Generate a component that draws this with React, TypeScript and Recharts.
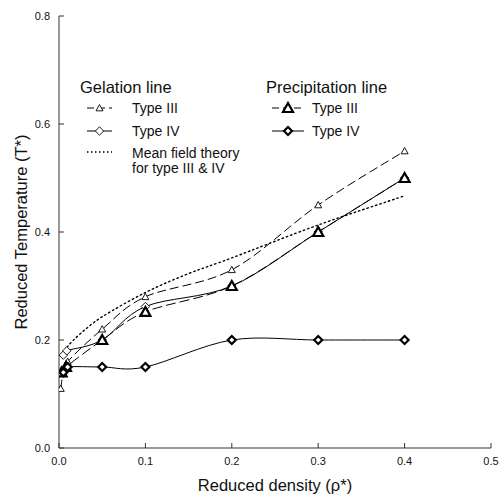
import React from 'react';
import { LineChart, Line, XAxis, YAxis, Legend } from 'recharts';

type Pt = { x: number; y: number };

const xTicks = [0, 0.1, 0.2, 0.3, 0.4, 0.5];
const yTicks = [0, 0.2, 0.4, 0.6, 0.8];

const gelationTypeIII: Pt[] = [
  { x: 0.002, y: 0.11 }, { x: 0.005, y: 0.14 }, { x: 0.01, y: 0.16 }, { x: 0.05, y: 0.22 },
  { x: 0.1, y: 0.28 }, { x: 0.2, y: 0.33 }, { x: 0.3, y: 0.45 }, { x: 0.4, y: 0.55 },
];
const gelationTypeIV: Pt[] = [
  { x: 0.005, y: 0.172 }, { x: 0.009, y: 0.18 }, { x: 0.05, y: 0.2 }, { x: 0.1, y: 0.262 },
  { x: 0.2, y: 0.3 }, { x: 0.3, y: 0.4 }, { x: 0.4, y: 0.5 },
];
const meanField: Pt[] = [
  { x: 0.005, y: 0.172 }, { x: 0.01, y: 0.188 }, { x: 0.025, y: 0.212 }, { x: 0.05, y: 0.243 },
  { x: 0.1, y: 0.288 }, { x: 0.15, y: 0.323 }, { x: 0.2, y: 0.352 }, { x: 0.3, y: 0.413 },
  { x: 0.4, y: 0.467 },
];
const precipitationTypeIII: Pt[] = [
  { x: 0.003, y: 0.14 }, { x: 0.008, y: 0.15 }, { x: 0.05, y: 0.2 }, { x: 0.1, y: 0.252 },
  { x: 0.2, y: 0.3 }, { x: 0.3, y: 0.4 }, { x: 0.4, y: 0.5 },
];
const precipitationTypeIV: Pt[] = [
  { x: 0.005, y: 0.14 }, { x: 0.01, y: 0.15 }, { x: 0.05, y: 0.15 }, { x: 0.1, y: 0.15 },
  { x: 0.2, y: 0.2 }, { x: 0.3, y: 0.2 }, { x: 0.4, y: 0.2 },
];

const FONT = '"Liberation Sans", Arial, sans-serif';
const AXIS = '#333';

// Catmull-Rom style curve factory
const catmull = (context: any) => {
  let pts: number[][] = [];
  return {
    areaStart() {},
    areaEnd() {},
    lineStart() { pts = []; },
    lineEnd() {
      if (!pts.length) return;
      context.moveTo(pts[0][0], pts[0][1]);
      for (let i = 0; i < pts.length - 1; i++) {
        const p0 = pts[i - 1] || pts[i];
        const p1 = pts[i];
        const p2 = pts[i + 1];
        const p3 = pts[i + 2] || p2;
        const c1x = p1[0] + (p2[0] - p0[0]) / 6;
        const c1y = p1[1] + (p2[1] - p0[1]) / 6;
        const c2x = p2[0] - (p3[0] - p1[0]) / 6;
        const c2y = p2[1] - (p3[1] - p1[1]) / 6;
        context.bezierCurveTo(c1x, c1y, c2x, c2y, p2[0], p2[1]);
      }
    },
    point(x: number, y: number) { pts.push([x, y]); },
  };
};

const Marker = ({ kind, cx, cy }: { kind: string; cx: number; cy: number }) => {
  if (kind === 'triSmall') {
    const s = 3.5;
    return <polygon points={`${cx},${cy - s} ${cx + s},${cy + s * 0.8} ${cx - s},${cy + s * 0.8}`} fill="#fff" stroke="#000" strokeWidth={0.9} />;
  }
  if (kind === 'triBig') {
    const s = 5;
    return <polygon points={`${cx},${cy - s} ${cx + s},${cy + s * 0.8} ${cx - s},${cy + s * 0.8}`} fill="#fff" stroke="#000" strokeWidth={2.2} />;
  }
  if (kind === 'diaOpen') {
    const s = 4.2;
    return <polygon points={`${cx},${cy - s} ${cx + s},${cy} ${cx},${cy + s} ${cx - s},${cy}`} fill="#fff" stroke="#000" strokeWidth={0.9} />;
  }
  const s = 4;
  return <polygon points={`${cx},${cy - s} ${cx + s},${cy} ${cx},${cy + s} ${cx - s},${cy}`} fill="#fff" stroke="#000" strokeWidth={2.2} />;
};

const series = [
  { key: 'g3', name: 'Type III', data: gelationTypeIII, dash: '9 4', marker: 'triSmall', width: 1 },
  { key: 'g4', name: 'Type IV', data: gelationTypeIV, dash: undefined, marker: 'diaOpen', width: 1 },
  { key: 'mf', name: 'Mean field theory', data: meanField, dash: '1.5 3', marker: '', width: 1.4 },
  { key: 'p3', name: 'Type III', data: precipitationTypeIII, dash: '10 4', marker: 'triBig', width: 1 },
  { key: 'p4', name: 'Type IV', data: precipitationTypeIV, dash: undefined, marker: 'diaBold', width: 1 },
];

const XTick = (props: any) => {
  const { x, y, payload } = props;
  return (
    <g>
      <line x1={x} y1={y} x2={x} y2={y - 5} stroke={AXIS} strokeWidth={1} />
      <text x={x} y={y + 17} textAnchor="middle" fontSize={11} fontFamily={FONT} fill="#111">
        {payload.value.toFixed(1)}
      </text>
    </g>
  );
};

const YTick = (props: any) => {
  const { x, y, payload } = props;
  return (
    <g>
      <line x1={x} y1={y} x2={x + 5} y2={y} stroke={AXIS} strokeWidth={1} />
      <text x={x - 9} y={y + 4} textAnchor="end" fontSize={11} fontFamily={FONT} fill="#111">
        {payload.value.toFixed(1)}
      </text>
    </g>
  );
};

const LegendRow = ({ s, x0, x1, tx, y }: any) => (
  <g>
    <line x1={x0} y1={y} x2={x1} y2={y} stroke="#000" strokeWidth={s.width} strokeDasharray={s.dash ? '7 4' : undefined} />
    {s.marker ? <Marker kind={s.marker} cx={(x0 + x1) / 2} cy={y} /> : null}
    <text x={tx} y={y + 5} fontSize={14} fontFamily={FONT} fill="#111">{s.name}</text>
  </g>
);

const renderLegend = () => (
  <svg width={502} height={499} style={{ position: 'absolute', left: 0, top: 0, pointerEvents: 'none', overflow: 'visible' }}>
    <text x={80} y={93} fontSize={16.5} fontFamily={FONT} fill="#111">Gelation line</text>
    <text x={266} y={93} fontSize={16.5} fontFamily={FONT} fill="#111">Precipitation line</text>
    <LegendRow s={series[0]} x0={87} x1={112} tx={132} y={108} />
    <LegendRow s={series[1]} x0={87} x1={112} tx={132} y={131} />
    <line x1={87} y1={152} x2={112} y2={152} stroke="#000" strokeWidth={1.4} strokeDasharray="1.5 2.5" />
    <text x={132} y={158} fontSize={14} fontFamily={FONT} fill="#111">Mean field theory</text>
    <text x={132} y={173} fontSize={14} fontFamily={FONT} fill="#111">for type III &amp; IV</text>
    <LegendRow s={series[3]} x0={272} x1={304} tx={312} y={108} />
    <LegendRow s={series[4]} x0={272} x1={304} tx={312} y={131} />
  </svg>
);

export default function App() {
  return (
    <div style={{ position: 'absolute', left: 0, top: 0, width: 502, height: 499, background: '#fff' }}>
      <LineChart width={502} height={499} margin={{ top: 16, right: 11, left: 0, bottom: 0 }}>
        <XAxis
          dataKey="x"
          type="number"
          domain={[0, 0.5]}
          ticks={xTicks}
          height={51}
          tickSize={0}
          tickMargin={0}
          tickLine={false}
          tick={<XTick />}
          axisLine={{ stroke: AXIS }}
          allowDataOverflow
          label={{
            content: () => (
              <text x={275} y={491} textAnchor="middle" fontSize={16.5} fontFamily={FONT} fill="#111">
                Reduced density (ρ*)
              </text>
            ),
          }}
        />
        <XAxis xAxisId="top" orientation="top" type="number" domain={[0, 0.5]} height={0} tick={false} tickLine={false} axisLine={{ stroke: AXIS }} />
        <YAxis
          dataKey="y"
          type="number"
          domain={[0, 0.8]}
          ticks={yTicks}
          width={59}
          tickSize={0}
          tickMargin={0}
          tickLine={false}
          tick={<YTick />}
          axisLine={{ stroke: AXIS }}
          allowDataOverflow
          label={{
            content: () => (
              <text x={21} y={232} transform="rotate(-90, 21, 232)" textAnchor="middle" dominantBaseline="central" fontSize={16.5} fontFamily={FONT} fill="#111">
                Reduced Temperature (T*)
              </text>
            ),
          }}
        />
        <YAxis yAxisId="right" orientation="right" type="number" domain={[0, 0.8]} width={0} tick={false} tickLine={false} axisLine={{ stroke: AXIS }} />
        <Legend content={renderLegend} wrapperStyle={{ position: 'absolute', left: 0, top: 0, width: 0, height: 0, overflow: 'visible' }} />
        {series.map((s) => (
          <Line
            key={s.key}
            data={s.data}
            dataKey="y"
            name={s.name}
            type={catmull as any}
            stroke="#000"
            strokeWidth={s.width}
            strokeDasharray={s.dash}
            strokeLinecap={s.key === 'mf' ? 'round' : 'butt'}
            isAnimationActive={false}
            dot={s.marker ? (p: any) => <Marker key={`${s.key}-${p.index}`} kind={s.marker} cx={p.cx} cy={p.cy} /> : false}
            activeDot={false}
          />
        ))}
      </LineChart>
    </div>
  );
}
